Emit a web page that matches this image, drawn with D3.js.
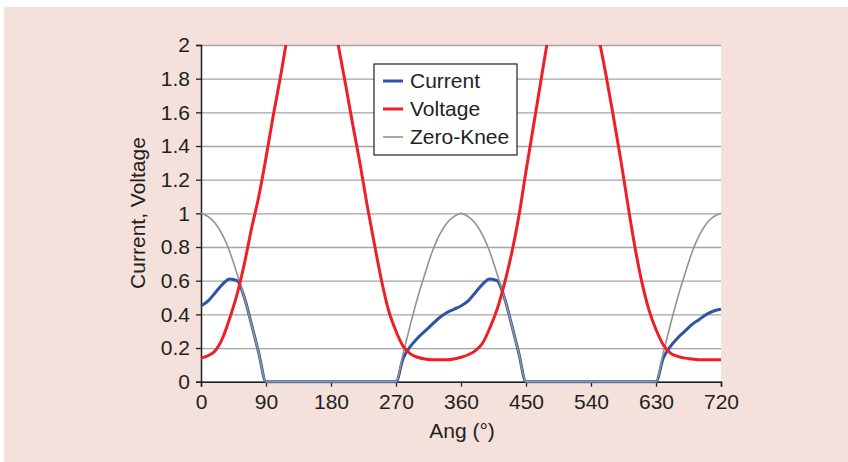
<!DOCTYPE html>
<html>
<head>
<meta charset="utf-8">
<script src="https://cdn.jsdelivr.net/npm/d3@7"></script>
<style>
  body { margin: 0; background: #ffffff; }
  text { font-family: "Liberation Sans", Arial, sans-serif; fill: #231f20; }
</style>
</head>
<body>
<svg id="chart" width="848" height="462"></svg>
<script>
// angle samples (deg) and values
var angles = [0,10,20,30,40,50,60,70,80,90,100,110,120,130,140,150,160,170,180,190,200,210,220,230,240,250,260,270,280,290,300,310,320,330,340,350,360,370,380,390,400,410,420,430,440,450,460,470,480,490,500,510,520,530,540,550,560,570,580,590,600,610,620,630,640,650,660,670,680,690,700,710,720];

var current = [0.45,0.48,0.53,0.58,0.61,0.60,0.50,0.34,0.17,0,
  0,0,0,0,0,0,0,0,0,0,0,0,0,0,0,0,0,
  0,0.14,0.21,0.26,0.30,0.34,0.38,0.41,0.43,0.45,0.48,0.53,0.58,0.61,0.60,0.50,0.34,0.17,0,
  0,0,0,0,0,0,0,0,0,0,0,0,0,0,0,0,0,
  0,0.14,0.21,0.26,0.30,0.34,0.37,0.40,0.42,0.43];

var voltage = [0.14,0.155,0.185,0.26,0.38,0.52,0.70,0.91,1.10,1.33,1.58,1.81,2.06,2.28,2.43,2.50,2.48,2.38,2.21,2.00,
  1.77,1.53,1.30,1.05,0.82,0.60,0.42,0.30,0.21,0.165,0.145,0.135,0.13,0.13,0.13,0.135,0.145,0.16,0.185,0.23,
  0.32,0.43,0.58,0.76,0.98,1.25,1.51,1.77,2.03,2.27,2.43,2.50,2.50,2.42,2.27,2.06,1.84,1.60,1.35,1.08,
  0.82,0.60,0.43,0.31,0.22,0.17,0.15,0.14,0.135,0.13,0.13,0.13,0.13];

var zeroKnee = [1,0.98,0.94,0.87,0.77,0.64,0.50,0.34,0.17,0,
  0,0,0,0,0,0,0,0,0,0,0,0,0,0,0,0,0,
  0,0.17,0.34,0.50,0.64,0.77,0.87,0.94,0.98,1,0.98,0.94,0.87,0.77,0.64,0.50,0.34,0.17,0,
  0,0,0,0,0,0,0,0,0,0,0,0,0,0,0,0,0,
  0,0.17,0.34,0.50,0.64,0.77,0.87,0.94,0.98,1];

var xTicks = [0,90,180,270,360,450,540,630,720];
var yTicks = [0,0.2,0.4,0.6,0.8,1,1.2,1.4,1.6,1.8,2];

var seriesNames = ["Current", "Voltage", "Zero-Knee"];
var seriesColors = ["#2f54a5", "#ee1f25", "#939393"];
var seriesWidths = [3, 3, 1.6];

var fontSize = "21px";

var svg = d3.select("#chart");

// pink panel
svg.append("rect")
   .attr("x", 4).attr("y", 7)
   .attr("width", 844).attr("height", 455)
   .attr("fill", "#f5e1db");

var margin = {top: 45, left: 201},
    width = 520,
    height = 336.7;

var g = svg.append("g")
           .attr("transform", `translate(${margin.left},${margin.top})`);

var x = d3.scaleLinear().domain([0, 720]).range([0, width]);
var y = d3.scaleLinear().domain([0, 2]).range([height, 0]);

g.append("rect")
 .attr("width", width)
 .attr("height", height)
 .attr("fill", "#ffffff");

// gridlines
g.append("g")
 .attr("class", "grid")
 .call(d3.axisLeft(y).tickValues(yTicks).tickSize(-width).tickFormat(""))
 .call(s => s.select(".domain").remove())
 .selectAll("line")
 .attr("stroke", "#a3a3a3")
 .attr("stroke-width", 1.3);

g.append("clipPath")
 .attr("id", "plotclip")
 .append("rect")
 .attr("x", -2).attr("y", 0)
 .attr("width", width + 4).attr("height", height + 2);

// axes
var yAxis = g.append("g")
  .call(d3.axisLeft(y).tickValues(yTicks).tickSize(5).tickPadding(6)
          .tickFormat(d => String(+d.toFixed(1))));
var xAxis = g.append("g")
  .attr("transform", `translate(0,${height})`)
  .call(d3.axisBottom(x).tickValues(xTicks).tickSize(5).tickPadding(7));

[yAxis, xAxis].forEach(function(a) {
  a.select(".domain").attr("stroke", "#231f20").attr("stroke-width", 1.5);
  a.selectAll(".tick line").attr("stroke", "#231f20").attr("stroke-width", 1.3);
  a.selectAll("text").style("font-size", fontSize).attr("fill", "#231f20");
});

// lines
var data = [current, voltage, zeroKnee];
var drawOrder = [0, 2, 1];
var line = d3.line()
             .x((d, i) => x(angles[i]))
             .y(d => y(d))
             .curve(d3.curveMonotoneX);

var lines = g.append("g").attr("clip-path", "url(#plotclip)");
drawOrder.forEach(function(k) {
  lines.append("path")
       .datum(data[k])
       .attr("d", line)
       .attr("fill", "none")
       .attr("stroke", seriesColors[k])
       .attr("stroke-width", seriesWidths[k])
       .attr("stroke-linejoin", "round");
});

// axis titles
svg.append("text")
   .attr("x", 462).attr("y", 438)
   .attr("text-anchor", "middle")
   .style("font-size", fontSize)
   .text("Ang (°)");

svg.append("text")
   .attr("transform", "translate(145,213) rotate(-90)")
   .attr("text-anchor", "middle")
   .style("font-size", fontSize)
   .text("Current, Voltage");

// legend
var legend = svg.append("g").attr("transform", "translate(374,64)");
legend.append("rect")
      .attr("width", 143).attr("height", 91)
      .attr("fill", "#ffffff")
      .attr("stroke", "#231f20")
      .attr("stroke-width", 1.2);

seriesNames.forEach(function(name, i) {
  var ly = 17 + i * 28;
  legend.append("line")
        .attr("x1", 9).attr("x2", 29)
        .attr("y1", ly).attr("y2", ly)
        .attr("stroke", seriesColors[i])
        .attr("stroke-width", seriesWidths[i]);
  legend.append("text")
        .attr("x", 36).attr("y", ly + 7)
        .style("font-size", fontSize)
        .text(name);
});
</script>
</body>
</html>
